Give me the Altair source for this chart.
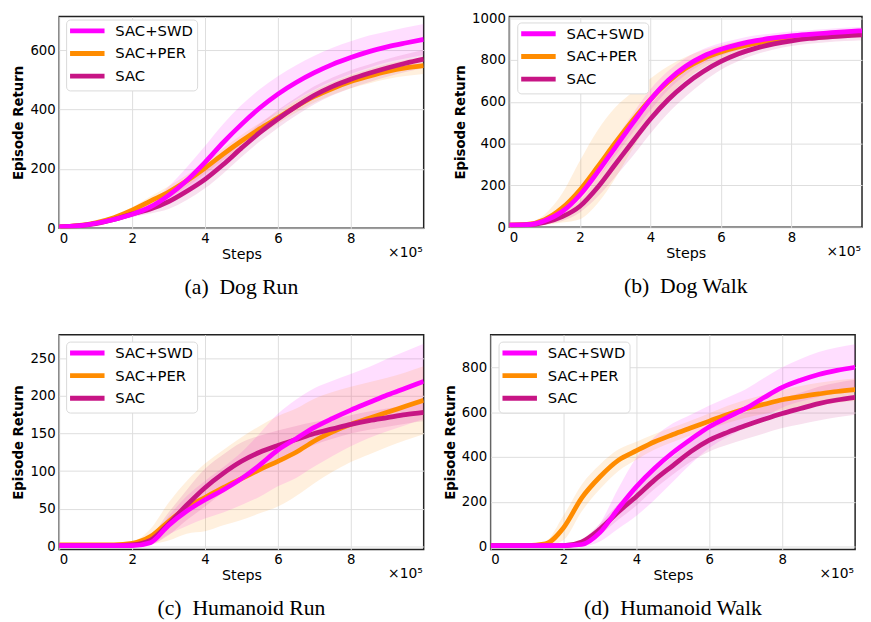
import altair as alt
import pandas as pd

# x positions in units of 1e5 steps
steps = [0, 0.5, 1, 1.5, 2, 2.5, 3, 3.5, 4, 4.5, 5, 5.5, 6, 6.5, 7, 7.5, 8, 8.5, 9, 9.5, 10]

SERIES = ["SAC+SWD", "SAC+PER", "SAC"]
COLORS = ["#FF00FF", "#FF8C00", "#C71585"]
DRAW_ORDER = ["SAC+PER", "SAC", "SAC+SWD"]

# (a) Dog Run
a_swd = [5, 8, 17, 30, 47, 72, 111, 161, 222, 289, 350, 405, 452, 491, 524, 552, 575, 595, 611, 624, 636]
a_per = [5, 9, 19, 36, 61, 92, 122, 160, 203, 250, 294, 335, 372, 410, 444, 471, 494, 512, 528, 540, 548]
a_sac = [5, 8, 16, 30, 48, 65, 90, 125, 165, 215, 270, 322, 368, 410, 448, 478, 502, 522, 540, 556, 570]
a_swd_sd = [3, 4, 5, 7, 10, 15, 30, 45, 55, 62, 65, 63, 60, 58, 57, 56, 55, 54, 52, 52, 52]
a_per_sd = [3, 4, 5, 7, 10, 15, 20, 20, 20, 20, 20, 20, 20, 20, 20, 21, 22, 24, 25, 27, 28]
a_sac_sd = [3, 4, 5, 7, 10, 15, 25, 30, 30, 30, 30, 30, 30, 30, 30, 30, 30, 30, 30, 30, 30]

# (b) Dog Walk
b_swd = [10, 12, 31, 75, 154, 263, 381, 498, 610, 702, 770, 818, 851, 875, 893, 906, 916, 923, 929, 935, 940]
b_per = [10, 13, 36, 92, 178, 288, 403, 512, 612, 695, 760, 806, 838, 862, 880, 894, 905, 913, 920, 926, 930]
b_sac = [10, 11, 22, 50, 100, 190, 300, 410, 518, 610, 685, 745, 793, 830, 857, 877, 892, 903, 910, 916, 920]
b_swd_sd = [5, 5, 10, 15, 20, 30, 40, 45, 50, 45, 40, 35, 30, 27, 25, 22, 20, 20, 20, 20, 18]
b_per_sd = [5, 8, 25, 70, 140, 175, 170, 135, 100, 75, 55, 42, 33, 28, 24, 22, 20, 20, 20, 20, 20]
b_sac_sd = [5, 5, 10, 20, 30, 45, 60, 70, 70, 65, 60, 50, 40, 35, 30, 27, 25, 25, 25, 25, 25]

# (c) Humanoid Run
c_swd = [1, 1, 1, 1, 1, 5, 28, 47, 62, 75, 90, 108, 128, 143, 158, 170, 181, 191, 201, 210, 219]
c_per = [2, 2, 2, 2, 4, 13, 33, 52, 65, 78, 90, 102, 113, 125, 140, 152, 162, 170, 178, 186, 194]
c_sac = [1, 1, 1, 1, 2, 8, 30, 55, 78, 97, 113, 125, 134, 142, 150, 156, 162, 167, 171, 175, 178]
c_swd_sd = [0.5, 0.5, 0.5, 0.5, 1, 3, 12, 20, 25, 30, 35, 42, 48, 52, 52, 50, 48, 47, 48, 49, 50]
c_per_sd = [1, 1, 1, 1, 2, 10, 25, 35, 45, 50, 55, 58, 60, 58, 56, 53, 50, 48, 46, 45, 45]
c_sac_sd = [0.5, 0.5, 0.5, 0.5, 1, 5, 15, 20, 25, 25, 25, 22, 20, 18, 15, 13, 12, 12, 12, 12, 12]

# (d) Humanoid Walk
d_swd = [5, 5, 5, 5, 5, 10, 64, 170, 268, 350, 420, 480, 535, 577, 617, 665, 710, 742, 768, 786, 800]
d_per = [5, 5, 5, 13, 85, 218, 312, 385, 428, 468, 500, 530, 560, 590, 615, 635, 655, 669, 681, 692, 700]
d_sac = [5, 5, 5, 5, 5, 22, 79, 155, 224, 298, 362, 425, 475, 510, 540, 568, 594, 616, 638, 654, 666]
d_swd_sd = [3, 3, 3, 3, 3, 8, 40, 90, 130, 140, 130, 110, 95, 88, 85, 87, 90, 95, 100, 102, 102]
d_per_sd = [3, 3, 3, 10, 55, 60, 55, 48, 40, 35, 33, 33, 35, 38, 40, 43, 45, 48, 50, 50, 50]
d_sac_sd = [3, 3, 3, 3, 3, 10, 25, 35, 40, 40, 40, 45, 50, 55, 60, 63, 65, 70, 75, 77, 78]

x_ticks = [0, 2, 4, 6, 8]
FONT = "DejaVu Sans"


def panel(means, sds, ydom, yticks, caption, w, h, lx, ly):
    rows = []
    lookup = dict(zip(SERIES, zip(means, sds)))
    for order, name in enumerate(DRAW_ORDER):
        m, s = lookup[name]
        for x, v, d in zip(steps, m, s):
            rows.append({"x": x, "series": name, "ord": order,
                         "mean": v, "lo": v - d, "hi": v + d})
    df = pd.DataFrame(rows)
    base = alt.Chart(df)
    xenc = alt.X("x:Q", scale=alt.Scale(domain=[0, 10], nice=False, zero=False),
                 axis=alt.Axis(values=x_ticks, title="Steps"))
    yscale = alt.Scale(domain=ydom, nice=False, zero=False)
    yaxis = alt.Axis(values=yticks, format="d", title="Episode Return")
    layers = []
    for name, col in zip(SERIES, COLORS):
        layers.append(
            base.transform_filter(alt.datum.series == name)
            .mark_area(opacity=0.13, interpolate="monotone", clip=True, color=col)
            .encode(x=xenc, y=alt.Y("lo:Q", scale=yscale, axis=yaxis), y2="hi:Q")
        )
    lines = base.mark_line(strokeWidth=4.8, interpolate="monotone", clip=True).encode(
        x=xenc,
        y=alt.Y("mean:Q", scale=yscale, axis=yaxis),
        color=alt.Color("series:N", scale=alt.Scale(domain=SERIES, range=COLORS),
                        legend=alt.Legend(title=None, orient="none", legendX=lx, legendY=ly)),
        detail="ord:O",
    )
    layers.append(lines)
    note = alt.Chart(pd.DataFrame({"t": ["×10⁵"]})).mark_text(
        align="right", baseline="top", fontSize=14, font=FONT, color="black"
    ).encode(x=alt.value(w - 1), y=alt.value(h + 18), text="t:N")
    layers.append(note)
    return alt.layer(*layers).properties(
        width=w, height=h,
        title=alt.TitleParams(caption, orient="bottom", font="Liberation Serif", fontSize=22,
                              fontWeight="normal", color="black", offset=17, anchor="middle"),
    )


pa = panel([a_swd, a_per, a_sac], [a_swd_sd, a_per_sd, a_sac_sd], [0, 713], [0, 200, 400, 600],
           "(a)\u00a0\u00a0Dog Run", 370, 215, 7, 3)
pb = panel([b_swd, b_per, b_sac], [b_swd_sd, b_per_sd, b_sac_sd], [-1, 1008],
           [0, 200, 400, 600, 800, 1000], "(b)\u00a0\u00a0Dog Walk", 358, 214, 8, 6)
pc = panel([c_swd, c_per, c_sac], [c_swd_sd, c_per_sd, c_sac_sd], [-4, 281],
           [0, 50, 100, 150, 200, 250], "(c)\u00a0\u00a0Humanoid Run", 370, 218, 7, 7)
pd_ = panel([d_swd, d_per, d_sac], [d_swd_sd, d_per_sd, d_sac_sd], [-12, 945],
            [0, 200, 400, 600, 800], "(d)\u00a0\u00a0Humanoid Walk", 370, 218, 8, 7)

row1 = alt.hconcat(pa, pb, spacing=28).resolve_scale(color="independent")
row2 = alt.hconcat(pc, pd_, spacing=18).resolve_scale(color="independent")

chart = (
    alt.vconcat(row1, row2, spacing=35)
    .resolve_scale(color="independent")
    .properties(padding={"left": 3, "top": -3, "right": 0, "bottom": 0}, background="white")
    .configure_view(stroke="#222222", strokeWidth=1.5)
    .configure_axis(grid=True, gridColor="#dddddd", gridWidth=1, domain=False, ticks=False,
                    labelColor="black", titleColor="black", labelFont=FONT, titleFont=FONT,
                    labelFontSize=13.5)
    .configure_axisX(labelPadding=3, titlePadding=3, titleFontSize=14.5, titleFontWeight="normal")
    .configure_axisY(labelPadding=4, titlePadding=4, titleFontSize=13.5, titleFontWeight="bold")
    .configure_legend(symbolType="M-1.5,0H5.5", symbolStrokeWidth=5, symbolSize=100,
                      labelFontSize=15, labelFont=FONT, labelOffset=31, labelColor="black",
                      padding=4, rowPadding=2, cornerRadius=4,
                      strokeColor="#d9d9d9", fillColor="white")
)

chart.save("out.html", embed_options={"renderer": "svg", "actions": False})
